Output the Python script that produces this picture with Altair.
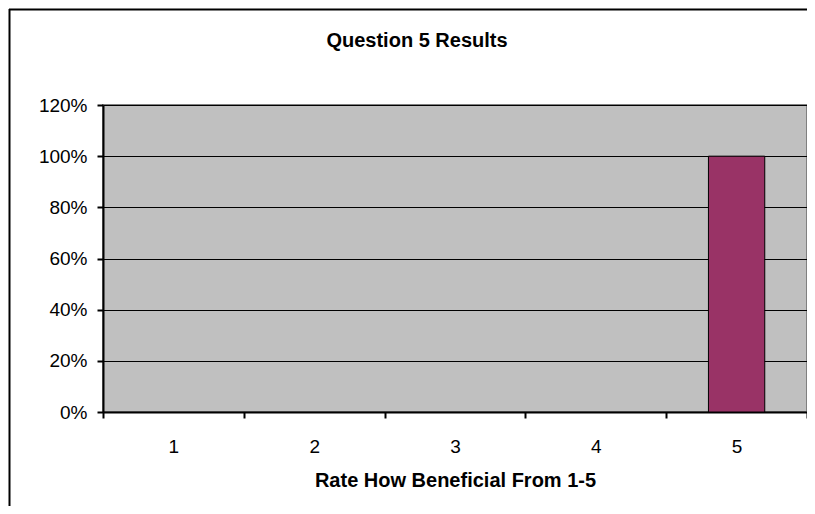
import altair as alt
import pandas as pd

categories = ["1", "2", "3", "4", "5"]
values = [0.0, 0.0, 0.0, 0.0, 1.0]
y_ticks = [0.0, 0.2, 0.4, 0.6, 0.8, 1.0, 1.2]
chart_title = "Question 5 Results"
x_title = "Rate How Beneficial From 1-5"

df = pd.DataFrame({"rating": categories, "share": values})

FONT = "Liberation Sans"
W, H = 704, 307

bars = alt.Chart(df).mark_bar(
    color="#993366", strokeWidth=1,
    width=alt.RelativeBandSize(0.4)
).encode(
    x=alt.X("rating:N", sort=categories,
            scale=alt.Scale(paddingInner=0, paddingOuter=0),
            axis=alt.Axis(title=x_title, labelAngle=0,
                          tickBand="extent", domainColor="black", domainWidth=2,
                          tickColor="black", tickWidth=2, tickSize=6,
                          labelFont=FONT, labelFontSize=19, labelColor="black",
                          labelPadding=19,
                          titleFont=FONT, titleFontSize=20, titleFontWeight="bold",
                          titleColor="black", titlePadding=14)),
    y=alt.Y("share:Q",
            scale=alt.Scale(domain=[0, 1.2], nice=False),
            axis=alt.Axis(title=None, values=y_ticks, format=".0%",
                          grid=True, gridColor="black", gridWidth=1, gridOpacity=1,
                          domainColor="black", domainWidth=2,
                          tickColor="black", tickWidth=2, tickSize=6,
                          labelFont=FONT, labelFontSize=19, labelColor="black",
                          labelPadding=10)),
    stroke=alt.condition(alt.datum.share > 0, alt.value("black"), alt.value("transparent")),
)

frame_data = alt.Data(values=[{}])
frame_top = alt.Chart(frame_data).mark_rule(color="black", strokeWidth=2).encode(
    x=alt.value(-94), x2=alt.value(W + 20), y=alt.value(-95.5)
)
frame_left = alt.Chart(frame_data).mark_rule(color="black", strokeWidth=2).encode(
    x=alt.value(-93.5), y=alt.value(-96), y2=alt.value(H + 120)
)
title_text = alt.Chart(frame_data).mark_text(
    text=chart_title, font=FONT, fontSize=20, fontWeight="bold", color="black",
    align="center", baseline="alphabetic"
).encode(x=alt.value(314), y=alt.value(-58))

chart = alt.layer(bars, frame_top, frame_left, title_text).properties(
    width=W, height=H,
    autosize=alt.AutoSizeParams(type="none"),
    padding={"left": 95, "top": 97, "right": 0, "bottom": 94},
    background="white",
).configure_view(
    stroke="#808080", strokeWidth=2, fill="#C0C0C0"
)

chart.save("out.html", embed_options={"renderer": "svg", "actions": False})
